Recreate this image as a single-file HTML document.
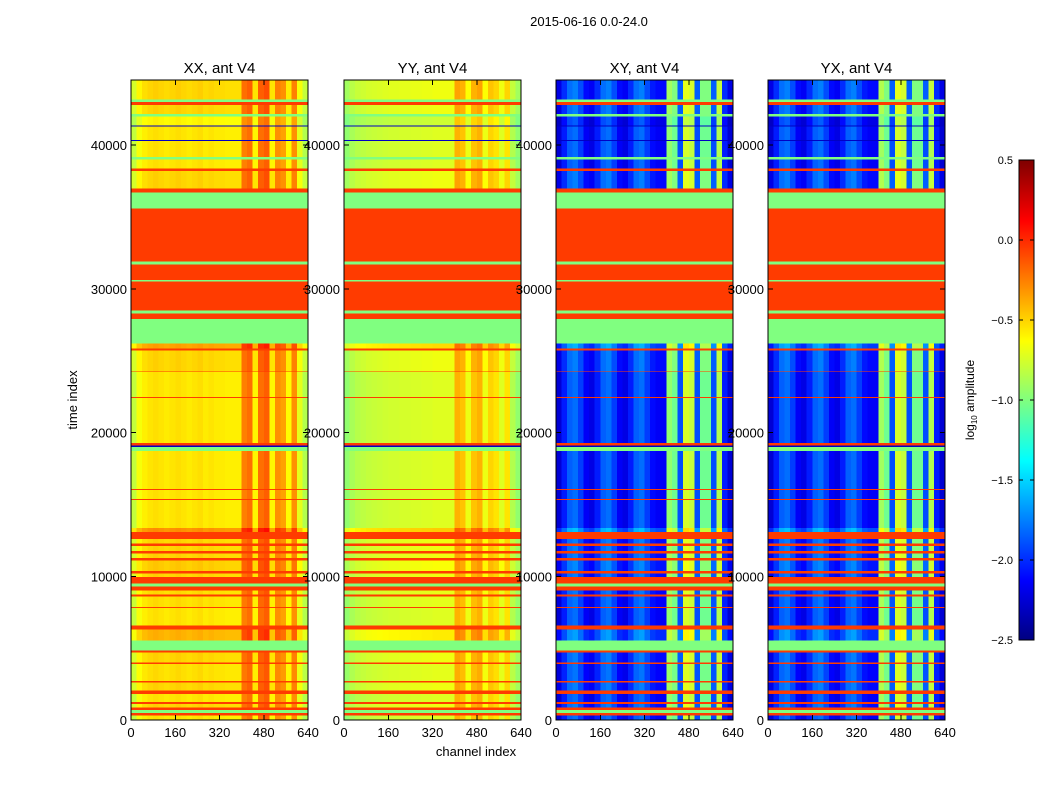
<!DOCTYPE html>
<html><head><meta charset="utf-8"><style>
html,body{margin:0;padding:0;background:#fff;}
svg{display:block;font-family:"Liberation Sans",sans-serif;}
</style></head><body>
<svg id="fig" width="1050" height="800" viewBox="0 0 1050 800">
<rect width="1050" height="800" fill="#fff"/>
<text x="589" y="26" font-size="13" text-anchor="middle">2015-06-16 0.0-24.0</text>
<text x="476" y="756" font-size="13" text-anchor="middle">channel index</text>
<text x="77" y="400" font-size="13" text-anchor="middle" transform="rotate(-90 77 400)">time index</text>
<g id="panels" shape-rendering="crispEdges"></g>
<g id="cbar"></g>
</svg>
<script>
const panelTitles = ["XX, ant V4","YY, ant V4","XY, ant V4","YX, ant V4"];
const xTicks = [0,160,320,480,640];
const yTicks = [0,10000,20000,30000,40000];
const cbTicks = [0.5,0.0,-0.5,-1.0,-1.5,-2.0,-2.5];
const cbLabels = ["0.5","0.0","\u22120.5","\u22121.0","\u22121.5","\u22122.0","\u22122.5"];
// segment types: 0 data, 1 flagged (orange), 2 green, 3 dark line
const segStart = [0,300,500,700,900,1100,1300,1800,2100,2600,2750,3900,4050,4700,4850,5550,6300,6600,7800,7900,8600,8750,9000,9300,9500,10000,10200,10400,11100,11300,11600,11800,12100,12300,12600,13100,13400,15300,15400,16000,16100,18700,19000,19100,19300,22400,22500,24200,24300,25700,25900,26200,27900,28300,28500,30500,30600,31700,31900,35600,36700,37000,38200,38400,39000,39200,40300,40400,41300,41400,42000,42200,42800,43000,43200];
const segEnd   = [300,500,700,900,1100,1300,1800,2100,2600,2750,3900,4050,4700,4850,5550,6300,6600,7800,7900,8600,8750,9000,9300,9500,10000,10200,10400,11100,11300,11600,11800,12100,12300,12600,13100,13400,15300,15400,16000,16100,18700,19000,19100,19300,22400,22500,24200,24300,25700,25900,26200,27900,28300,28500,30500,30600,31700,31900,35600,36700,37000,38200,38400,39000,39200,40300,40400,41300,41400,42000,42200,42800,43000,43200,44550];
const segType  = [0,1,2,1,0,1,0,1,0,1,0,1,0,1,2,0,1,0,1,0,1,0,1,2,1,0,1,0,1,0,1,0,1,0,1,0,0,1,0,1,0,2,3,1,0,1,0,1,0,1,0,2,1,2,1,2,1,2,1,2,1,0,1,0,2,0,3,0,3,0,2,0,1,2,0];
const segOffset= [0,0,0,0,0.05,0,0,0,0.05,0,0.02,0,0.05,0,0,0.15,0,0,0,0.02,0,0.03,0,0,0,0.05,0,0.08,0,0.05,0,0.05,0,0.05,0,0.25,0,0,0,0,0,0,0,0,0,0,0,0,0.05,0,0.2,0,0,0,0,0,0,0,0,0,0,0.05,0,0,0,0,0,0,0,-0.05,0,0.05,0,0,0.05];
// channel profiles, 32 bins of 20 channels
const chanXX = [-0.8,-0.65,-0.58,-0.55,-0.53,-0.55,-0.57,-0.55,-0.53,-0.55,-0.57,-0.55,-0.53,-0.57,-0.55,-0.57,-0.57,-0.58,-0.58,-0.58,-0.25,-0.2,-0.6,-0.2,-0.15,-0.6,-0.3,-0.35,-0.62,-0.3,-0.7,-0.85];
const chanYY = [-0.95,-0.88,-0.84,-0.82,-0.8,-0.79,-0.78,-0.77,-0.76,-0.76,-0.75,-0.75,-0.74,-0.74,-0.73,-0.73,-0.72,-0.72,-0.72,-0.72,-0.4,-0.45,-0.68,-0.45,-0.4,-0.68,-0.5,-0.55,-0.72,-0.55,-0.85,-0.95];
const chanXY = [-2.25,-2.05,-1.85,-1.8,-1.95,-2.15,-2.2,-2.05,-1.85,-1.8,-1.95,-2.15,-2.2,-2.05,-1.85,-1.8,-1.95,-2.1,-2.15,-2.15,-0.95,-1.05,-1.9,-0.75,-0.8,-1.9,-1.05,-1.05,-1.9,-0.85,-2.05,-2.25];
const chanYX = [-2.25,-2.05,-1.85,-1.8,-1.95,-2.15,-2.2,-2.05,-1.85,-1.8,-1.95,-2.15,-2.2,-2.05,-1.85,-1.8,-1.95,-2.1,-2.15,-2.15,-0.9,-1.05,-1.9,-0.75,-0.8,-1.9,-1.05,-1.05,-1.9,-0.85,-2.05,-2.25];
const chanProfiles = [chanXX, chanYY, chanXY, chanYX];
const flagValue = -0.05, greenValue = -1.0, lineValue = -2.3;

const NS="http://www.w3.org/2000/svg";
const panelX=[131,344,556,768], panelW=177, pTop=80, pBot=720;
const tMax=44530, chMax=640, vMin=-2.5, vMax=0.5;
function yScale(t){return pBot-(t/tMax)*(pBot-pTop);}
function xScale(px,c){return px+(c/chMax)*panelW;}
function jet(v){
  let f=(v-vMin)/(vMax-vMin); f=Math.max(0,Math.min(1,f));
  function ch(x){return Math.max(0,Math.min(1,x));}
  const r=ch(1.5-Math.abs(4*f-3)), g=ch(1.5-Math.abs(4*f-2)), b=ch(1.5-Math.abs(4*f-1));
  return `rgb(${Math.round(r*255)},${Math.round(g*255)},${Math.round(b*255)})`;
}
function mk(tag,attrs,parent){const e=document.createElementNS(NS,tag);for(const k in attrs)e.setAttribute(k,attrs[k]);parent.appendChild(e);return e;}
const panels=document.getElementById('panels');
for(let p=0;p<4;p++){
  const px=panelX[p];
  const g=mk('g',{},panels);
  
  
  const prof=chanProfiles[p];
  const binW=chMax/prof.length;
  for(let s=0;s<segStart.length;s++){
    const y1=yScale(segEnd[s]), y2=yScale(segStart[s]);
    const h=Math.max(1,y2-y1);
    if(segType[s]!==0){
      const v=segType[s]===1?flagValue:segType[s]===2?greenValue:lineValue;
      const r=mk('rect',{x:px,y:y1,width:panelW,height:h,fill:jet(v)},g);
      
      
    } else {
      for(let c=0;c<prof.length;c++){
        const x1=xScale(px,c*binW), x2=xScale(px,(c+1)*binW);
        const r=mk('rect',{x:x1,y:y1,width:x2-x1+0.5,height:h+0.5,fill:jet(prof[c]+segOffset[s])},g);
        
        
      }
    }
  }
  const fr=mk('rect',{x:px,y:pTop,width:panelW,height:pBot-pTop,fill:'none',stroke:'#000','stroke-width':1},g);
  
  
  const tt=mk('text',{x:px+panelW/2,y:73,'font-size':15,'text-anchor':'middle'},g);
  tt.textContent=panelTitles[p];
  
  
  xTicks.forEach(v=>{
    const x=xScale(px,v);
    mk('line',{x1:x,x2:x,y1:pBot,y2:pBot-5,stroke:'#000'},g);
    mk('line',{x1:x,x2:x,y1:pTop,y2:pTop+5,stroke:'#000'},g);
    const t=mk('text',{x:x,y:737,'font-size':13,'text-anchor':'middle'},g);
    t.textContent=v;
    
    
  });
  yTicks.forEach(v=>{
    const y=yScale(v);
    mk('line',{x1:px,x2:px+5,y1:y,y2:y,stroke:'#000'},g);
    mk('line',{x1:px+panelW,x2:px+panelW-5,y1:y,y2:y,stroke:'#000'},g);
    const t=mk('text',{x:px-4,y:y+5,'font-size':13,'text-anchor':'end'},g);
    t.textContent=v;
    
    
  });
}
// colorbar
const cb=document.getElementById('cbar');


const cbX=1019,cbW=15,cbTop=160,cbBot=640;
for(let i=0;i<240;i++){
  const v=vMin+(i+0.5)/240*(vMax-vMin);
  const y=cbBot-(i+1)/240*(cbBot-cbTop);
  mk('rect',{x:cbX,y:y,width:cbW,height:(cbBot-cbTop)/240+0.5,fill:jet(v)},cb);
}
mk('rect',{x:cbX,y:cbTop,width:cbW,height:cbBot-cbTop,fill:'none',stroke:'#000'},cb);
cbTicks.forEach((v,i)=>{
  const y=cbBot-(v-vMin)/(vMax-vMin)*(cbBot-cbTop);
  mk('line',{x1:cbX,x2:cbX+4,y1:y,y2:y,stroke:'#000'},cb);
  mk('line',{x1:cbX+cbW,x2:cbX+cbW-4,y1:y,y2:y,stroke:'#000'},cb);
  const t=mk('text',{x:1013,y:y+4,'font-size':11,'text-anchor':'end'},cb);
  t.textContent=cbLabels[i];
  
  
});
const cl=mk('text',{x:974,y:400,'font-size':12,'text-anchor':'middle',transform:'rotate(-90 974 400)'},cb);
cl.innerHTML='log<tspan font-size="8" dy="3">10</tspan><tspan dy="-3"> amplitude</tspan>';


</script>
</body></html>
